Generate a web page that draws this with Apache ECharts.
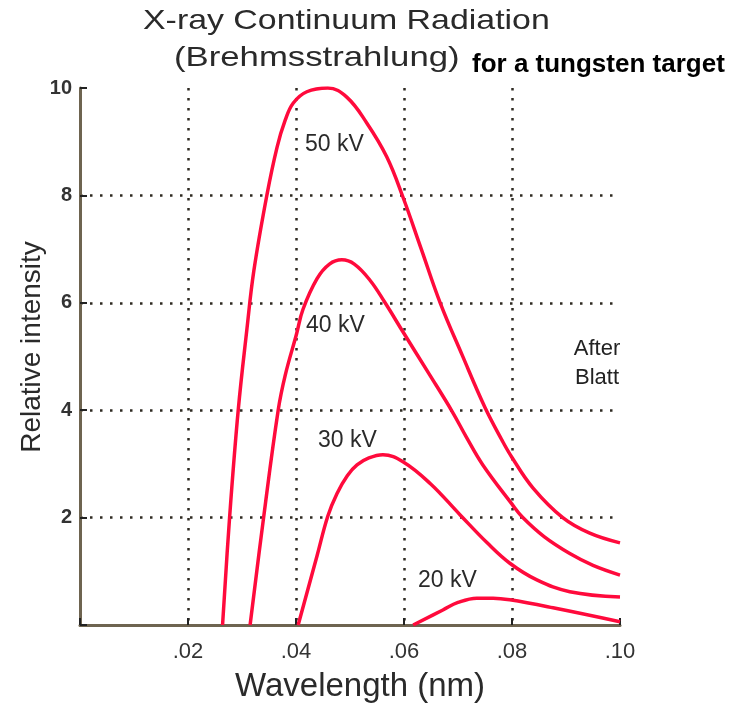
<!DOCTYPE html>
<html>
<head>
<meta charset="utf-8">
<script src="https://cdn.jsdelivr.net/npm/echarts@6/dist/echarts.min.js"></script>
<style>
html,body{margin:0;padding:0;background:#fff;}
#c{width:745px;height:708px;}
</style>
</head>
<body>
<div id="c"></div>
<script>
// Wavelength (nm) and relative intensity for each tube voltage
var wl50 = [0.0264,0.0277,0.0293,0.0309,0.0322,0.0346,0.0365,0.0380,0.0395,0.0420,0.0459,0.0494,0.0531,0.0568,0.0598,0.0632,0.0667,0.0708,0.0750,0.0781,0.0800,0.0839,0.0894,0.0944,0.1000];
var int50 = [0,2.0,4.0,5.5,6.6,8.0,8.9,9.4,9.72,9.93,10.0,9.83,9.35,8.72,7.97,7.0,6.0,5.02,4.05,3.45,3.12,2.55,2.0,1.71,1.53];

var wl40 = [0.0315,0.0340,0.0367,0.0380,0.0401,0.0413,0.0439,0.0462,0.0485,0.0508,0.0537,0.0565,0.0598,0.0645,0.0689,0.0716,0.0746,0.0800,0.0820,0.0860,0.0907,0.0950,0.1000];
var int40 = [0,2.0,4.0,4.65,5.42,5.88,6.45,6.72,6.8,6.72,6.42,6.0,5.46,4.7,3.98,3.49,2.98,2.25,2.0,1.64,1.33,1.11,0.93];

var wl30 = [0.0404,0.0439,0.0459,0.0476,0.0495,0.0513,0.0535,0.0561,0.0598,0.0648,0.0704,0.0754,0.0796,0.0846,0.0907,0.1000];
var int30 = [0,1.29,2.03,2.45,2.78,2.98,3.11,3.17,3.04,2.64,2.05,1.53,1.15,0.84,0.62,0.52];

var wl20 = [0.0617,0.0672,0.0700,0.0735,0.0765,0.0796,0.0876,0.1000];
var int20 = [0,0.28,0.42,0.50,0.50,0.47,0.32,0.06];

var seriesNames = ['50 kV','40 kV','30 kV','20 kV'];
var xTicks = ['.02','.04','.06','.08','.10'];

function pairs(xs, ys){ return xs.map(function(x,i){ return [x, ys[i]]; }); }

var FONT = '"Liberation Sans", Arial, Helvetica, sans-serif';
var RED = '#ff0a3c';
var TXT = '#2a2a2a';
var chart = echarts.init(document.getElementById('c'), null, {renderer:'canvas'});

var lineSeries = [[wl50,int50],[wl40,int40],[wl30,int30],[wl20,int20]].map(function(d,i){
  return {
    name: seriesNames[i], type:'line', data: pairs(d[0], d[1]),
    showSymbol:false, smooth:0.4,
    lineStyle:{color:RED, width:3.5}, z:5
  };
});

var gridLine = {color:'#2e2a22', width:2.5, type:[2.5,7.5]};

var option = {
  animation:false,
  backgroundColor:'#fff',
  grid:{left:80, right:125, top:88, bottom:83},
  xAxis:{
    type:'value', min:0, max:0.1, interval:0.02,
    axisLine:{show:true, lineStyle:{color:'#6e6450', width:3}},
    axisTick:{show:true, inside:true, length:7, lineStyle:{color:'#222', width:2}},
    axisLabel:{fontFamily:FONT, fontSize:22, color:'#333', margin:16,
      formatter:function(v){ var i=Math.round(v/0.02)-1; return i>=0 ? xTicks[i] : ''; }},
    splitLine:{show:true, showMinLine:false, showMaxLine:false, lineStyle:gridLine}
  },
  yAxis:{
    type:'value', min:0, max:10, interval:2,
    axisLine:{show:true, lineStyle:{color:'#6e6450', width:3}},
    axisTick:{show:true, inside:true, length:7, lineStyle:{color:'#222', width:2}},
    axisLabel:{fontFamily:FONT, fontSize:20, fontWeight:'bold', color:'#333', margin:8,
      formatter:function(v){ return v===0 ? '' : String(v); }},
    splitLine:{show:true, showMinLine:false, showMaxLine:false, lineStyle:gridLine}
  },
  series: lineSeries,
  graphic:[
    {type:'text', x:143, y:7, scaleX:1.21, style:{text:'X-ray Continuum Radiation', font:'28px '+FONT, fill:TXT}},
    {type:'text', x:174, y:44, scaleX:1.24, style:{text:'(Brehmsstrahlung)', font:'28px '+FONT, fill:TXT}},
    {type:'text', x:472, y:52, style:{text:'for a tungsten target', font:'bold 26px '+FONT, fill:'#000'}},
    {type:'text', x:235, y:670, style:{text:'Wavelength (nm)', font:'33px '+FONT, fill:TXT}},
    {type:'text', x:32, y:347, rotation:Math.PI/2, style:{text:'Relative intensity', font:'28px '+FONT, fill:TXT, align:'center', verticalAlign:'middle'}},
    {type:'text', x:305, y:133, style:{text:'50 kV', font:'23px '+FONT, fill:TXT}},
    {type:'text', x:306, y:314, style:{text:'40 kV', font:'23px '+FONT, fill:TXT}},
    {type:'text', x:318, y:429, style:{text:'30 kV', font:'23px '+FONT, fill:TXT}},
    {type:'text', x:418, y:569, style:{text:'20 kV', font:'23px '+FONT, fill:TXT}},
    {type:'text', x:597, y:334, style:{text:'After\nBlatt', font:'22px '+FONT, fill:'#222', align:'center', lineHeight:29}}
  ]
};
chart.setOption(option);
</script>
</body>
</html>
